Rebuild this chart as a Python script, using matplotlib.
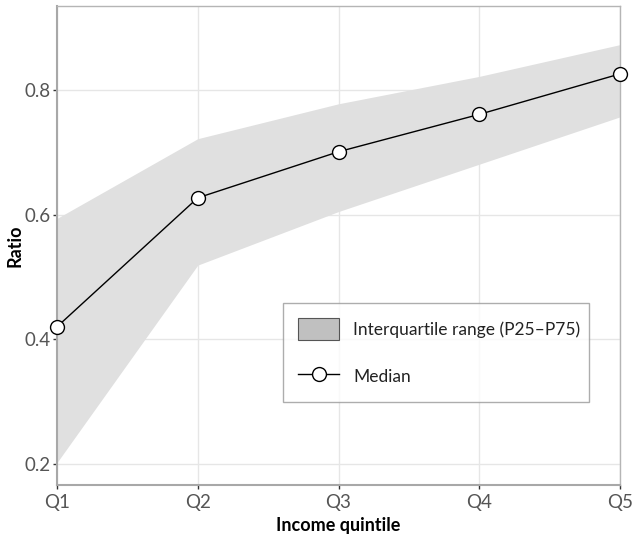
import matplotlib
matplotlib.use("Agg")
import matplotlib.pyplot as plt
from matplotlib.patches import Patch
from matplotlib.lines import Line2D

plt.rcParams['font.family'] = ['Lato', 'DejaVu Sans']

# values
quintiles = ["Q1", "Q2", "Q3", "Q4", "Q5"]
median = [0.420, 0.627, 0.701, 0.761, 0.826]
p25 = [0.202, 0.519, 0.605, 0.681, 0.757]
p75 = [0.594, 0.722, 0.778, 0.822, 0.873]

x = list(range(len(quintiles)))

fig = plt.figure(figsize=(6.32, 5.36), dpi=100)
ax = fig.add_axes([57 / 632, 1 - 485 / 536, (620 - 57) / 632, (485 - 6) / 536])

ax.fill_between(x, p25, p75, color="#e0e0e0", linewidth=0, zorder=1)
ax.plot(x, median, color="black", linewidth=1, marker="o", markersize=10,
        markerfacecolor="white", markeredgecolor="black", markeredgewidth=1,
        zorder=3, clip_on=False)

ax.set_xlim(0, 4)
ax.set_ylim(0.166, 0.935)
ax.set_xticks(x)
ax.set_xticklabels(quintiles)
ax.set_yticks([0.2, 0.4, 0.6, 0.8])
ax.grid(True, color="#e6e6e6", linewidth=1, zorder=0)
ax.set_axisbelow(True)

for side in ["top", "right"]:
    ax.spines[side].set_color("#b5b5b5")
    ax.spines[side].set_linewidth(1)
for side in ["left", "bottom"]:
    ax.spines[side].set_color("#a8a8a8")
    ax.spines[side].set_linewidth(1.5)

ax.tick_params(axis="both", labelsize=13.5, labelcolor="#555555", color="#333333",
               length=3, width=1)
ax.tick_params(axis="y", pad=1.5)
ax.set_xlabel("Income quintile", fontsize=13, fontweight="bold", labelpad=4)
ax.set_ylabel("Ratio", fontsize=13, fontweight="bold")
ax.yaxis.set_label_coords(-0.06, 0.5)

handles = [
    Patch(facecolor="#c0c0c0", edgecolor="#555555", linewidth=0.8),
    Line2D([0], [0], color="black", linewidth=1, marker="o", markersize=10,
           markerfacecolor="white", markeredgecolor="black"),
]
labels = ["Interquartile range (P25\u2013P75)", "Median"]
leg = ax.legend(handles, labels, loc="upper left",
                bbox_to_anchor=((283 - 57) / 563, 1 - (404 - 6) / 479,
                                (589 - 283) / 563, (404 - 303) / 479),
                mode="expand", fontsize=12.5, frameon=True, fancybox=False,
                edgecolor="#999999", labelspacing=1.45, handlelength=2.4,
                handleheight=1.6, borderpad=0.85, borderaxespad=0,
                handletextpad=0.8)
leg.get_frame().set_linewidth(1)
for t in leg.get_texts():
    t.set_color("#222222")

fig.savefig("out.png", dpi=100)
